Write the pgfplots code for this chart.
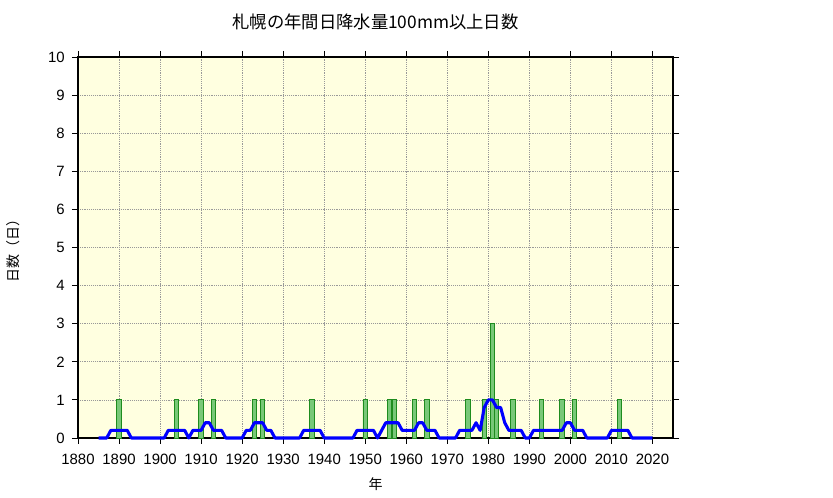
\documentclass[border=0pt]{standalone}
\usepackage{pgfplots}
\pgfplotsset{compat=1.18}
\usepackage{fontspec}
\setmainfont{Liberation Sans}
\newfontfamily\cjk{Noto Sans CJK JP}
\definecolor{bg}{RGB}{255,255,224}
\definecolor{barfill}{RGB}{120,200,120}
\definecolor{barline}{RGB}{30,140,30}
\begin{document}
\begin{tikzpicture}
\path[use as bounding box] (0,0) rectangle (624.75pt,373.5pt);
\begin{axis}[
 at={(58.5pt,45pt)}, anchor=south west,
 scale only axis, width=446.25pt, height=285.75pt,
 xmin=1880, xmax=2025, ymin=0, ymax=10,
 xtick={1880,1890,...,2020}, ytick={0,1,...,10},
 axis background/.style={fill=bg},
 grid=major, grid style={densely dotted, gray!80, line width=0.5pt},
 axis line style={line width=1.3pt},
 tick align=outside, major tick length=4.5pt,
 tick style={black, line width=0.6pt},
 ticklabel style={font=\fontsize{11.2}{13}\selectfont},
 xticklabel style={/pgf/number format/1000 sep={}, yshift=-4pt},
 yticklabel style={xshift=-2pt},
 /pgf/number format/assume math mode=true,
 title={\cjk 札幌の年間日降水量100mm以上日数},
 title style={font=\fontsize{13}{15}\selectfont, at={(0.5,1)}, yshift=20.25pt, anchor=center},
 xlabel={\cjk 年},
 xlabel style={font=\fontsize{10.5}{12}\selectfont, at={(0.5,0)}, yshift=-34.5pt, anchor=center},
 ylabel={\cjk 日数（日）},
 ylabel style={font=\fontsize{10.5}{12}\selectfont, at={(0,0.5)}, anchor=center, rotate=0, yshift=48.75pt},
 clip=false,
]
\addplot[ybar, bar width=1.1, fill=barfill, draw=barline, line width=0.7pt] coordinates {
(1890,1) (1904,1) (1910,1) (1913,1) (1923,1) (1925,1) (1937,1) (1950,1) (1956,1) (1957,1)
(1962,1) (1965,1) (1975,1) (1979,1) (1981,3) (1982,1) (1986,1) (1993,1) (1998,1) (2001,1) (2012,1)
};
\addplot[blue, line width=2.3pt, line join=round] coordinates {
(1885,0) (1886,0) (1887,0) (1888,0.2) (1889,0.2) (1890,0.2) (1891,0.2) (1892,0.2) (1893,0)
(1894,0) (1895,0) (1896,0) (1897,0) (1898,0) (1899,0) (1900,0) (1901,0)
(1902,0.2) (1903,0.2) (1904,0.2) (1905,0.2) (1906,0.2) (1907,0) (1908,0.2) (1909,0.2) (1910,0.2)
(1911,0.4) (1912,0.4) (1913,0.2) (1914,0.2) (1915,0.2) (1916,0) (1917,0) (1918,0) (1919,0) (1920,0)
(1921,0.2) (1922,0.2) (1923,0.4) (1924,0.4) (1925,0.4) (1926,0.2) (1927,0.2) (1928,0)
(1929,0) (1930,0) (1931,0) (1932,0) (1933,0) (1934,0)
(1935,0.2) (1936,0.2) (1937,0.2) (1938,0.2) (1939,0.2) (1940,0)
(1941,0) (1942,0) (1943,0) (1944,0) (1945,0) (1946,0) (1947,0)
(1948,0.2) (1949,0.2) (1950,0.2) (1951,0.2) (1952,0.2) (1953,0) (1954,0.2)
(1955,0.4) (1956,0.4) (1957,0.4) (1958,0.4) (1959,0.2) (1960,0.2) (1961,0.2) (1962,0.2)
(1963,0.4) (1964,0.4) (1965,0.2) (1966,0.2) (1967,0.2) (1968,0)
(1969,0) (1970,0) (1971,0) (1972,0)
(1973,0.2) (1974,0.2) (1975,0.2) (1976,0.2) (1977,0.4) (1978,0.2) (1979,0.8) (1980,1.0)
(1981,1.0) (1982,0.8) (1983,0.8) (1984,0.4) (1985,0.2) (1986,0.2) (1987,0.2) (1988,0.2)
(1989,0) (1990,0) (1991,0.2) (1992,0.2) (1993,0.2) (1994,0.2) (1995,0.2) (1996,0.2) (1997,0.2)
(1998,0.2) (1999,0.4) (2000,0.4) (2001,0.2) (2002,0.2) (2003,0.2) (2004,0)
(2005,0) (2006,0) (2007,0) (2008,0) (2009,0)
(2010,0.2) (2011,0.2) (2012,0.2) (2013,0.2) (2014,0.2) (2015,0)
(2016,0) (2017,0) (2018,0) (2019,0) (2020,0)
};
\end{axis}
\end{tikzpicture}
\end{document}
